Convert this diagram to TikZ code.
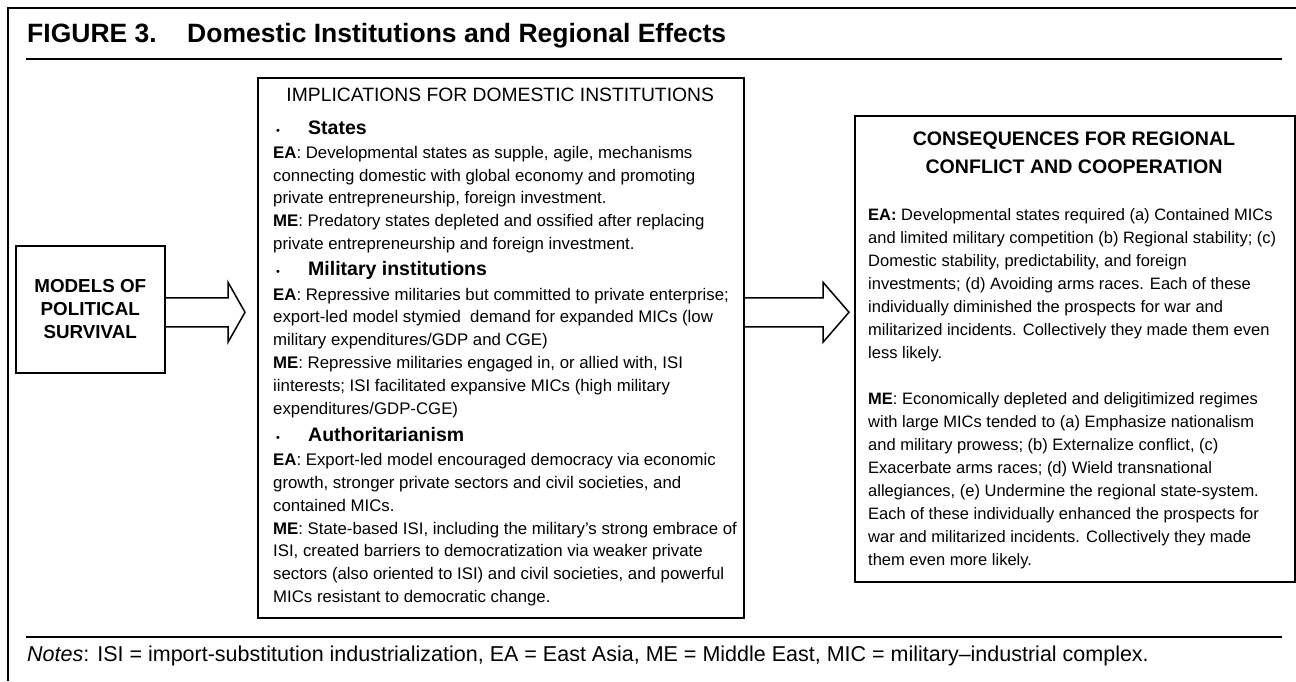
\documentclass[tikz,border=0pt]{standalone}
\usepackage{fontspec}
\setmainfont{Liberation Sans}
\usetikzlibrary{calc}
\newcommand{\drawthick}{\draw[line width=1.5pt]}
\newcommand{\fatarrow}[3]{
    \drawthick ($#1+(0,-14.5)$)--($#2+(-#3,-14.5)$)--($#2+(-#3,-30)$)--#2--($#2+(-#3,30)$)--($#2+(-#3,14.5)$)--($#1+(0,14.5)$);
}
\newcommand{\lbl}[1]{\textbf{#1}}
\newcommand{\bulhead}[1]{\makebox[35pt][l]{\hspace{3pt}{\fontsize{11}{11}\selectfont\textbullet}}{\fontsize{19.5}{22}\selectfont\bfseries #1}}
\tikzset{
    box/.style={draw, line width=1.5pt, inner sep=0pt, anchor=north west},
    bodytext/.style={anchor=north west, align=left, inner sep=0pt, font=\fontsize{16.8}{22.8}\selectfont}
}

\begin{document}
\begin{tikzpicture}[x=1pt,y=-1pt]
\useasboundingbox (0,0) rectangle (1296,681);
\draw[line width=2pt] (1296,8)--(8,8)--(8,681);
\node[anchor=base west, inner sep=0pt, font=\fontsize{26.5}{30}\selectfont\bfseries] (title) at (27,42) {FIGURE 3.\hspace{1.15em}Domestic Institutions and Regional Effects};
\draw[line width=1.2pt] (26,59)--(1282,59);
\node[box, minimum width=149, minimum height=127, align=center, font=\fontsize{18.8}{23}\selectfont\bfseries] (models) at (15,245) {MODELS OF\\POLITICAL\\SURVIVAL};
\node[box, minimum width=486, minimum height=540] (impl) at (257,77) {};
\node[box, minimum width=440, minimum height=466] (cons) at (854,115) {};
\node[bodytext] (impltext) at (273,88) {\makebox[454pt]{\fontsize{19.3}{22}\selectfont IMPLICATIONS FOR DOMESTIC INSTITUTIONS}\\[10pt]
\bulhead{States}\\[1pt]
\lbl{EA}: Developmental states as supple, agile, mechanisms\\
connecting domestic with global economy and promoting\\
private entrepreneurship, foreign investment.\\
\lbl{ME}: Predatory states depleted and ossified after replacing\\
private entrepreneurship and foreign investment.\\[3pt]
\bulhead{Military institutions}\\[2pt]
\lbl{EA}: Repressive militaries but committed to private enterprise;\\
export-led model stymied\ \ demand for expanded MICs (low\\
military expenditures/GDP and CGE)\\
\lbl{ME}: Repressive militaries engaged in, or allied with, ISI\\
iinterests; ISI facilitated expansive MICs (high military\\
expenditures/GDP-CGE)\\[5pt]
\bulhead{Authoritarianism}\\[1pt]
\lbl{EA}: Export-led model encouraged democracy via economic\\
growth, stronger private sectors and civil societies, and\\
contained MICs.\\
\lbl{ME}: State-based ISI, including the military’s strong embrace of\\
ISI, created barriers to democratization via weaker private\\
sectors (also oriented to ISI) and civil societies, and powerful\\
MICs resistant to democratic change.};
\node[anchor=north, align=center, inner sep=0pt, font=\fontsize{19.6}{28}\selectfont\bfseries] (conshead) at (1074,132) {CONSEQUENCES FOR REGIONAL\\CONFLICT AND COOPERATION};
\node[bodytext, font=\fontsize{16.5}{23}\selectfont] (constext) at (868,208) {\lbl{EA:} Developmental states required (a) Contained MICs\\
and limited military competition (b) Regional stability; (c)\\
Domestic stability, predictability, and foreign\\
investments; (d) Avoiding arms races. Each of these\\
individually diminished the prospects for war and\\
militarized incidents. Collectively they made them even\\
less likely.\\[23pt]
\lbl{ME}: Economically depleted and deligitimized regimes\\
with large MICs tended to (a) Emphasize nationalism\\
and military prowess; (b) Externalize conflict, (c)\\
Exacerbate arms races; (d) Wield transnational\\
allegiances, (e) Undermine the regional state-system.\\
Each of these individually enhanced the prospects for\\
war and militarized incidents. Collectively they made\\
them even more likely.};
\coordinate (startA) at ($(models.east)+(0,3)$);
\coordinate (tipA) at ($(impl.west|-startA)+(-12,0)$);
\fatarrow{(startA)}{(tipA)}{17}
\coordinate (startB) at (impl.east|-startA);
\coordinate (tipB) at ($(cons.west|-startA)+(-5,0)$);
\fatarrow{(startB)}{(tipB)}{26}
\draw[line width=1.2pt] (26,637)--(1282,637);
\node[anchor=base west, inner sep=0pt, font=\fontsize{21.5}{24}\selectfont] (notes) at (27,661) {\textit{Notes}: ISI = import-substitution industrialization, EA = East Asia, ME = Middle East, MIC = military–industrial complex.};
\end{tikzpicture}
\end{document}
